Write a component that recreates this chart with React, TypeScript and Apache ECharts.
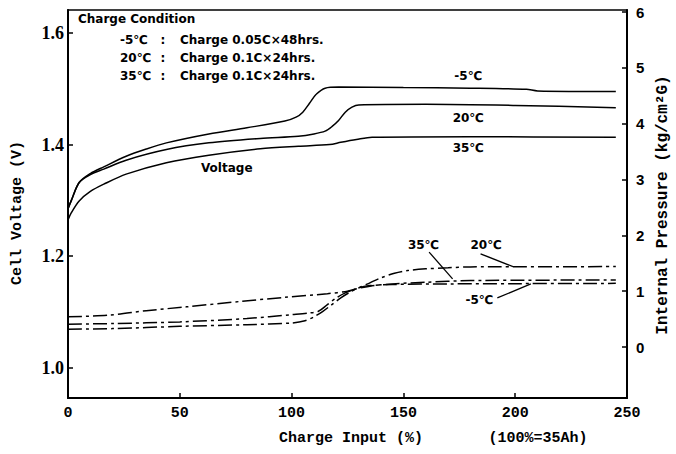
import React, { useEffect, useRef } from "react";
import * as echarts from "echarts";

// ---- Data (x = charge input %, y = value) ----
const voltageMinus5 = [
  [0, 1.285], [1.5, 1.3], [5, 1.332], [10, 1.348], [16, 1.36], [26, 1.379], [35, 1.392],
  [44, 1.403], [63, 1.419], [80, 1.43], [97, 1.442], [102, 1.449], [105, 1.458], [108, 1.474],
  [111, 1.49], [115, 1.501], [121, 1.503], [150, 1.502], [180, 1.501], [205, 1.499],
  [210, 1.496], [245, 1.495],
];
const voltage20 = [
  [0, 1.285], [1.5, 1.3], [5, 1.332], [10, 1.346], [16, 1.356], [26, 1.372], [44, 1.391],
  [63, 1.403], [86, 1.411], [103, 1.415], [110, 1.419], [115, 1.424], [118, 1.432],
  [121, 1.443], [124, 1.458], [127, 1.467], [130, 1.471], [160, 1.472], [200, 1.47], [245, 1.466],
];
const voltage35 = [
  [0, 1.265], [1.5, 1.278], [5, 1.299], [10, 1.316], [16, 1.329], [26, 1.347], [44, 1.3675],
  [63, 1.381], [86, 1.3925], [103, 1.397], [117, 1.4], [122, 1.404], [129, 1.409], [136, 1.413],
  [180, 1.414], [245, 1.413],
];
const pressureMinus5 = [
  [0, 0.32], [20, 0.33], [50, 0.37], [80, 0.4], [100, 0.43], [106, 0.47], [110, 0.54],
  [114, 0.64], [118, 0.76], [122, 0.88], [126, 0.98], [130, 1.06], [135, 1.1], [145, 1.12],
  [170, 1.13], [200, 1.135], [245, 1.14],
];
const pressure35 = [
  [0, 0.41], [20, 0.42], [50, 0.45], [80, 0.51], [100, 0.58], [108, 0.61], [112, 0.64],
  [116, 0.76], [120, 0.88], [124, 0.97], [128, 1.03], [135, 1.09], [145, 1.13], [160, 1.16],
  [180, 1.19], [245, 1.2],
];
const pressure20 = [
  [0, 0.54], [18, 0.57], [35, 0.65], [53, 0.72], [78, 0.82], [97, 0.89], [116, 0.955],
  [125, 1.0], [130, 1.06], [135, 1.15], [140, 1.24], [146, 1.32], [152, 1.37], [160, 1.4],
  [170, 1.42], [180, 1.435], [245, 1.44],
];

const xTickStep = 50;
const leftTickValues = [1.0, 1.2, 1.4, 1.6];
const rightTickValues = [0, 1, 2, 3, 4, 5, 6];

const conditionTitle = "Charge Condition";
const conditionTemps = ["-5℃", "20℃", "35℃"];
const conditionTexts = ["Charge 0.05C×48hrs.", "Charge 0.1C×24hrs.", "Charge 0.1C×24hrs."];

// annotation anchors in data coordinates
const voltageLabels = [
  { text: "-5℃", pos: [179, 1.522] },
  { text: "20℃", pos: [179, 1.447] },
  { text: "35℃", pos: [179, 1.394] },
  { text: "Voltage", pos: [71, 1.358] },
];
const pressureLabels = [
  { text: "35℃", pos: [159, 1.83], from: [161.5, 1.7], to: [172, 1.22] },
  { text: "20℃", pos: [187, 1.83], from: [184.5, 1.67], to: [199, 1.44] },
  { text: "-5℃", pos: [184, 0.84], from: [192, 0.88], to: [207, 1.13] },
];

export default function App() {
  const ref = useRef<HTMLDivElement>(null);
  useEffect(() => {
    const chart = echarts.init(ref.current!, null, { renderer: "svg" });
    const black = "#000";
    const dashDot = [14, 4, 3, 4];
    const solidSeries = (data: number[][]) => ({
      type: "line",
      data,
      xAxisIndex: 0,
      yAxisIndex: 0,
      smooth: 0.3,
      showSymbol: false,
      symbol: "none",
      lineStyle: { color: black, width: 1.5 },
    });
    const dashSeries = (data: number[][]) => ({
      type: "line",
      data,
      xAxisIndex: 0,
      yAxisIndex: 1,
      smooth: 0.3,
      showSymbol: false,
      symbol: "none",
      lineStyle: { color: black, width: 1.5, type: dashDot },
    });
    chart.setOption({
      animation: false,
      backgroundColor: "#fff",
      grid: {
        left: 68, right: 49, top: 10, bottom: 56,
        show: true, borderColor: black, borderWidth: 1.5, backgroundColor: "transparent",
      },
      xAxis: {
        type: "value", min: 0, max: 250, interval: xTickStep,
        axisLine: { show: true, onZero: false, lineStyle: { color: black, width: 2 } },
        axisTick: { show: true, inside: true, length: 5, lineStyle: { color: black, width: 1.5 } },
        splitLine: { show: false },
        axisLabel: {
          color: black, fontFamily: "Liberation Mono", fontWeight: "bold", fontSize: 15, margin: 8,
        },
      },
      yAxis: [
        {
          type: "value", min: 0.946, max: 1.641, position: "left",
          axisLine: { show: true, onZero: false, lineStyle: { color: black, width: 2 } },
          axisTick: { show: true, inside: true, length: 5, customValues: leftTickValues, lineStyle: { color: black, width: 1.5 } },
          splitLine: { show: false },
          axisLabel: {
            customValues: leftTickValues,
            formatter: (v: number) => v.toFixed(1),
            color: black, fontFamily: "Liberation Serif", fontWeight: "bold", fontSize: 18, margin: 4,
          },
        },
        {
          type: "value", min: -0.913, max: 6.036, position: "right",
          axisLine: { show: true, onZero: false, lineStyle: { color: black, width: 2 } },
          axisTick: { show: true, inside: true, length: 5, customValues: rightTickValues, lineStyle: { color: black, width: 1.5 } },
          splitLine: { show: false },
          axisLabel: {
            customValues: rightTickValues,
            formatter: (v: number) => String(Math.round(v)),
            color: black, fontFamily: "Liberation Sans", fontWeight: "bold", fontSize: 15, margin: 9,
          },
        },
      ],
      series: [
        solidSeries(voltageMinus5),
        solidSeries(voltage20),
        solidSeries(voltage35),
        dashSeries(pressureMinus5),
        dashSeries(pressure35),
        dashSeries(pressure20),
      ],
    });

    const toPx = (p: number[], yi: number) =>
      chart.convertToPixel({ xAxisIndex: 0, yAxisIndex: yi }, p) as number[];
    const labelFont = { fontFamily: "DejaVu Sans", fontWeight: "bold", fontSize: 12, fill: black };
    const g: any[] = [];
    g.push({ type: "text", x: 78, y: 19, style: { ...labelFont, text: conditionTitle, textVerticalAlign: "middle" } });
    conditionTemps.forEach((t, i) => {
      const y = 40 + i * 18;
      g.push({ type: "text", x: 120, y, style: { ...labelFont, text: t, textVerticalAlign: "middle" } });
      g.push({ type: "text", x: 163, y, style: { ...labelFont, text: ":", textAlign: "center", textVerticalAlign: "middle" } });
      g.push({ type: "text", x: 180, y, style: { ...labelFont, text: conditionTexts[i], textVerticalAlign: "middle" } });
    });
    voltageLabels.forEach((l) => {
      const [x, y] = toPx(l.pos, 0);
      g.push({ type: "text", x, y, style: { ...labelFont, text: l.text, textAlign: "center", textVerticalAlign: "middle" } });
    });
    pressureLabels.forEach((l) => {
      const [x, y] = toPx(l.pos, 1);
      g.push({ type: "text", x, y, style: { ...labelFont, text: l.text, textAlign: "center", textVerticalAlign: "middle" } });
      const a = toPx(l.from, 1);
      const b = toPx(l.to, 1);
      g.push({ type: "line", shape: { x1: a[0], y1: a[1], x2: b[0], y2: b[1] }, style: { stroke: black, lineWidth: 1.3 } });
    });
    const nameFont = { fontFamily: "Liberation Mono", fontWeight: "bold", fontSize: 15, fill: black, textAlign: "center", textVerticalAlign: "middle" };
    g.push({ type: "text", x: 351, y: 438, style: { ...nameFont, text: "Charge Input (%)" } });
    g.push({ type: "text", x: 538, y: 438, style: { ...nameFont, text: "(100%=35Ah)" } });
    g.push({ type: "text", x: 17, y: 213, rotation: Math.PI / 2, style: { ...nameFont, text: "Cell Voltage (V)" } });
    g.push({ type: "text", x: 663, y: 205, rotation: Math.PI / 2, style: { ...nameFont, fontSize: 16, text: "Internal Pressure (kg/cm²G)" } });
    chart.setOption({ graphic: g });

    return () => chart.dispose();
  }, []);
  return <div ref={ref} style={{ position: "fixed", left: 0, top: 0, width: 676, height: 454 }} />;
}
